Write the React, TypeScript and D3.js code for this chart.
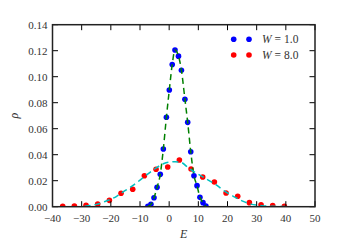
import React from "react";
import * as d3 from "d3";

// W = 1.0 data (blue)
const blueE = [-7.3, -6.25, -5.2, -4.15, -3.05, -2.0, -0.95, 0.05, 1.05, 2.0, 3.2, 4.2, 5.4, 6.35, 7.4, 8.5, 9.55, 10.55, 11.6, 12.6];
const blueRho = [0.0003, 0.0018, 0.0069, 0.0149, 0.0249, 0.0444, 0.0688, 0.0898, 0.1094, 0.1205, 0.1158, 0.105, 0.0827, 0.0649, 0.0423, 0.0238, 0.0162, 0.0072, 0.0031, 0.0005];

// W = 8.0 data (red)
const redE = [-36.5, -32.5, -28.5, -24.5, -20.5, -16.5, -12.5, -8.5, -4.5, -0.5, 3.5, 7.5, 11.5, 15.5, 19.5, 23.5, 27.5, 31.5, 35.5, 39.5];
const redRho = [0.0003, 0.0005, 0.0011, 0.0021, 0.0049, 0.0103, 0.0134, 0.0238, 0.0288, 0.0305, 0.0359, 0.029, 0.0228, 0.019, 0.0105, 0.008, 0.0031, 0.0015, 0.0009, 0.0003];

// fitted curve for W = 8.0 (cyan)
const fitE = [-29, -25, -22, -18, -15, -12, -8, -5, -2, 0, 2, 4, 7, 10, 13, 16, 19, 22, 25, 28, 32, 36, 40, 45];
const fitRho = [0.0004, 0.0018, 0.004, 0.008, 0.0125, 0.017, 0.024, 0.029, 0.033, 0.0343, 0.0346, 0.0342, 0.029, 0.025, 0.021, 0.017, 0.012, 0.008, 0.0045, 0.002, 0.0008, 0.0003, 0.0001, 0.0];

const xTicks = [-40, -30, -20, -10, 0, 10, 20, 30, 40, 50];
const yTicks = [0, 0.02, 0.04, 0.06, 0.08, 0.1, 0.12, 0.14];
const legendLabels = ["1.0", "8.0"];

const W = 350, H = 250;
const m = { left: 52.5, right: 315, top: 24.7, bottom: 206.7 };

export default function App() {
  const x = d3.scaleLinear().domain([-40, 50]).range([m.left, m.right]);
  const y = d3.scaleLinear().domain([0, 0.14]).range([m.bottom, m.top]);
  const line = d3.line<[number, number]>().x(d => x(d[0])).y(d => y(d[1])).curve(d3.curveMonotoneX);
  const blue = blueE.map((e, i) => [e, blueRho[i]] as [number, number]);
  const red = redE.map((e, i) => [e, redRho[i]] as [number, number]);
  const fit = fitE.map((e, i) => [e, fitRho[i]] as [number, number]);
  const font = "'Liberation Serif', 'DejaVu Serif', serif";
  const tl = 5.5;
  const txt = "#333";
  return (
    <svg width={W} height={H} style={{ position: "absolute", left: 0, top: 0, background: "#fff" }} fontFamily={font}>
      <defs>
        <clipPath id="plot"><rect x={m.left} y={m.top} width={m.right - m.left} height={m.bottom - m.top} /></clipPath>
      </defs>
      <g clipPath="url(#plot)">
        {blue.map((d, i) => <circle key={"b" + i} cx={x(d[0])} cy={y(d[1])} r={2.8} fill="#0000ff" />)}
        {red.map((d, i) => <circle key={"r" + i} cx={x(d[0])} cy={y(d[1])} r={2.8} fill="#ff0000" />)}
        <path d={line(blue) || ""} fill="none" stroke="#008000" strokeWidth={1.5} strokeDasharray="6,4" />
        <path d={line(fit) || ""} fill="none" stroke="#00bfbf" strokeWidth={1.5} strokeDasharray="6,4" />
      </g>
      {xTicks.map(t => (
        <g key={"x" + t}>
          <line x1={x(t)} x2={x(t)} y1={m.bottom} y2={m.bottom - tl} stroke="#000" strokeWidth={1} />
          <line x1={x(t)} x2={x(t)} y1={m.top} y2={m.top + tl} stroke="#000" strokeWidth={1} />
          <text x={x(t)} y={m.bottom + 15} textAnchor="middle" fontSize={11} fill={txt}>{t < 0 ? "\u2212" + Math.abs(t) : String(t)}</text>
        </g>
      ))}
      {yTicks.map(t => (
        <g key={"y" + t}>
          <line x1={m.left} x2={m.left + tl} y1={y(t)} y2={y(t)} stroke="#000" strokeWidth={1} />
          <line x1={m.right} x2={m.right - tl} y1={y(t)} y2={y(t)} stroke="#000" strokeWidth={1} />
          <text x={m.left - 5} y={y(t) + 3.8} textAnchor="end" fontSize={11} fill={txt}>{t.toFixed(2)}</text>
        </g>
      ))}
      <rect x={m.left} y={m.top} width={m.right - m.left} height={m.bottom - m.top} fill="none" stroke="#222" strokeWidth={1.5} />
      <text x={(m.left + m.right) / 2} y={238} textAnchor="middle" fontSize={12} fontStyle="italic" fill={txt}>E</text>
      <text transform={`translate(18,${(m.top + m.bottom) / 2}) rotate(-90)`} textAnchor="middle" fontSize={12} fontStyle="italic" fill={txt}>ρ</text>
      {legendLabels.map((lab, i) => {
        const ly = 39.3 + i * 15.7;
        const c = i === 0 ? "#0000ff" : "#ff0000";
        return (
          <g key={"l" + i}>
            <circle cx={233.7} cy={ly} r={2.8} fill={c} />
            <circle cx={249} cy={ly} r={2.8} fill={c} />
            <text x={262} y={ly + 4} fontSize={11.5} fill={txt}>
              <tspan fontStyle="italic">W</tspan><tspan dx={3}>=</tspan><tspan dx={3}>{lab}</tspan>
            </text>
          </g>
        );
      })}
    </svg>
  );
}
